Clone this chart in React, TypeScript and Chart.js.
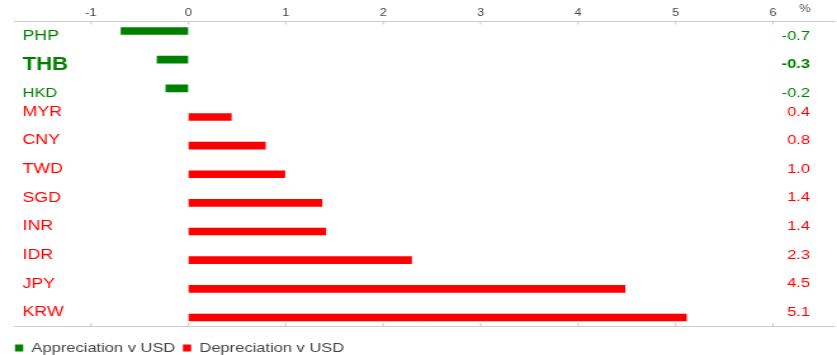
import React, { useEffect, useRef } from "react";
import { Chart, registerables } from "chart.js";

Chart.register(...registerables);

const categories = ["PHP", "THB", "HKD", "MYR", "CNY", "TWD", "SGD", "INR", "IDR", "JPY", "KRW"];
const values = [-0.69, -0.32, -0.23, 0.44, 0.79, 0.99, 1.37, 1.41, 2.29, 4.48, 5.11];
const valueLabels = ["-0.7", "-0.3", "-0.2", "0.4", "0.8", "1.0", "1.4", "1.4", "2.3", "4.5", "5.1"];
const xTicks = [-1, 0, 1, 2, 3, 4, 5, 6];
const highlighted = "THB";

const GREEN = "#008000";
const RED = "#ff0000";
const FONT = "Arial, 'Liberation Sans', sans-serif";

// The original graphic is horizontally stretched: draw at a narrower internal width
const OUT_W = 837;
const OUT_H = 355;
const W = 660;
const K = OUT_W / W;

const appreciation = categories
  .map((c, i) => ({ x: values[i], y: i }))
  .filter((p) => p.x < 0);
const depreciation = categories
  .map((c, i) => ({ x: values[i], y: i }))
  .filter((p) => p.x >= 0);

const labelPlugin = {
  id: "labels",
  afterDatasetsDraw(chart: any) {
    const { ctx, chartArea } = chart;
    const xs = chart.scales.x;
    const ys = chart.scales.y;
    ctx.save();
    ctx.strokeStyle = "#cccccc";
    ctx.lineWidth = 1;
    ctx.beginPath();
    ctx.moveTo(chartArea.left, Math.round(chartArea.bottom) + 0.5);
    ctx.lineTo(chartArea.right, Math.round(chartArea.bottom) + 0.5);
    ctx.stroke();
    xTicks.forEach((t) => {
      const px = xs.getPixelForValue(t);
      ctx.beginPath();
      ctx.moveTo(px, chartArea.top);
      ctx.lineTo(px, chartArea.top + 3);
      ctx.moveTo(px, chartArea.bottom);
      ctx.lineTo(px, chartArea.bottom - 3);
      ctx.stroke();
    });
    ctx.fillStyle = "#555555";
    ctx.font = `10px ${FONT}`;
    ctx.textAlign = "center";
    ctx.textBaseline = "middle";
    ctx.fillText("%", 805 / K, 9);
    categories.forEach((c, i) => {
      const neg = values[i] < 0;
      const color = neg ? GREEN : RED;
      const y = ys.getPixelForValue(i) + (neg ? 5 : -5);
      const bold = c === highlighted;
      ctx.fillStyle = color;
      ctx.textBaseline = "middle";
      ctx.textAlign = "left";
      ctx.font = bold
        ? `bold 17.5px ${FONT}`
        : c === "PHP"
        ? `14px ${FONT}`
        : neg
        ? `13px ${FONT}`
        : `14px ${FONT}`;
      ctx.fillText(c, 22.5 / K, y);
      ctx.textAlign = "right";
      ctx.font = bold ? `bold 13px ${FONT}` : `13px ${FONT}`;
      ctx.fillText(valueLabels[i], 810 / K, y);
    });
    ctx.restore();
  },
};

export default function App() {
  const ref = useRef<HTMLCanvasElement>(null);
  useEffect(() => {
    document.body.style.margin = "0";
    const chart = new Chart(ref.current as HTMLCanvasElement, {
      type: "bar",
      data: {
        datasets: [
          {
            label: "Appreciation v USD",
            data: appreciation,
            backgroundColor: GREEN,
            borderWidth: 0,
            barThickness: 7,
            grouped: false,
          },
          {
            label: "Depreciation v USD",
            data: depreciation,
            backgroundColor: RED,
            borderWidth: 0,
            barThickness: 7,
            grouped: false,
          },
        ],
      } as any,
      options: {
        indexAxis: "y",
        responsive: false,
        animation: false,
        devicePixelRatio: 1,
        layout: { padding: { left: 5.8, right: W - 835 / K, top: 4.5, bottom: -9.5 } },
        scales: {
          x: {
            type: "linear",
            position: "top",
            min: -1.789,
            max: 6.636,
            afterBuildTicks: (s: any) => {
              s.ticks = xTicks.map((v) => ({ value: v }));
            },
            grid: { display: true, drawOnChartArea: false, drawTicks: false },
            border: { display: true, color: "#cccccc", width: 1 },
            ticks: {
              font: { family: FONT, size: 10 },
              color: "#444444",
              padding: 2.5,
              maxRotation: 0,
              callback: (v: any) => String(v),
            },
          },
          y: {
            type: "linear",
            reverse: true,
            offset: false,
            min: -0.333,
            max: 10.298,
            display: true,
            grid: { display: false, offset: false },
            border: { display: false },
            ticks: { display: false },
            afterFit: (s: any) => {
              s.width = 14 / K - 5.8;
            },
          },
        },
        plugins: {
          legend: {
            position: "bottom",
            align: "start",
            title: { display: true, text: "", padding: 4, font: { size: 1.25 } },
            labels: {
              boxWidth: 6.5,
              boxHeight: 7,
              padding: 6,
              color: "#444444",
              font: { family: FONT, size: 13 },
            },
          },
          tooltip: { enabled: false },
        },
      } as any,
      plugins: [labelPlugin],
    });
    return () => chart.destroy();
  }, []);
  return (
    <div style={{ width: OUT_W, height: OUT_H }}>
      <canvas
        ref={ref}
        width={W}
        height={OUT_H}
        style={{ width: OUT_W + "px", height: OUT_H + "px", display: "block" }}
      />
    </div>
  );
}
